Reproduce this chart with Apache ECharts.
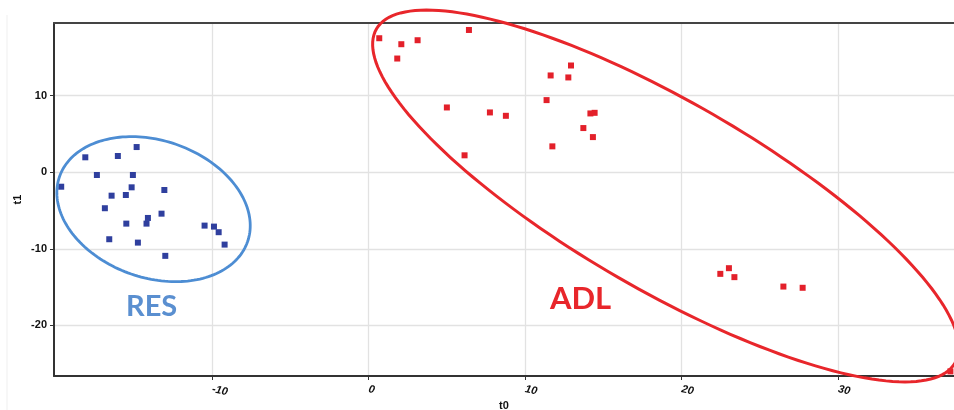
<!DOCTYPE html>
<html>
<head>
<meta charset="utf-8">
<script src="https://cdn.jsdelivr.net/npm/echarts@6/dist/echarts.min.js"></script>
<style>html,body{margin:0;padding:0;background:#fff}#c{width:954px;height:410px}</style>
</head>
<body>
<div id="c"></div>
<script>
// RES group scores [t0, t1]
var resPoints = [
  [-19.64, -1.88], [-18.10, 1.96], [-17.36, -0.35], [-16.02, 2.13], [-14.82, 3.30],
  [-15.06, -0.35], [-15.14, -1.96], [-16.42, -3.05], [-15.51, -2.96], [-13.05, -2.31],
  [-16.85, -4.69], [-13.23, -5.40], [-14.10, -5.96], [-14.19, -6.70], [-15.48, -6.70],
  [-16.57, -8.74], [-14.74, -9.18], [-12.99, -10.91], [-10.48, -6.96], [-9.88, -7.09],
  [-9.58, -7.82], [-9.20, -9.44]
];
// ADL group scores [t0, t1]
var adlPoints = [
  [0.68, 17.51], [2.09, 16.73], [3.13, 17.25], [1.83, 14.86], [6.41, 18.59],
  [5.00, 8.47], [7.75, 7.82], [8.77, 7.38], [6.13, 2.22], [11.63, 12.65],
  [12.76, 12.39], [12.93, 13.95], [11.37, 9.43], [14.17, 7.69], [14.44, 7.77],
  [13.72, 5.78], [14.33, 4.60], [11.74, 3.39], [22.47, -13.26], [23.02, -12.52],
  [23.37, -13.69], [26.50, -14.92], [27.73, -15.08], [37.17, -26.0]
];
var xTicks = [-10, 0, 10, 20, 30];
var yTicks = [-20, -10, 0, 10];
// group ellipses: centre in data units
var ellipseCentres = [[-13.74, -4.81], [18.98, -3.09]];

var ellipseStyle = [
  {a: 99.5, b: 68.6, rot: 19, color: '#4d8dd3', width: 2.8},
  {a: 334, b: 94.3, rot: 30, color: '#e8262b', width: 3}
];

var chart = echarts.init(document.getElementById('c'));
var labelFont = 'Liberation Sans';
chart.setOption({
  animation: false,
  backgroundColor: '#fff',
  grid: {left: 54, top: 23, right: 0, bottom: 34, outerBoundsMode: 'none', containLabel: false},
  xAxis: [{
    type: 'value', min: -20.1, max: 37.4,
    name: 't0', nameLocation: 'middle', nameGap: 24, nameMoveOverlap: false,
    nameTextStyle: {fontFamily: labelFont, fontWeight: 'bold', fontSize: 11, color: '#111'},
    axisLine: {show: true, onZero: false, lineStyle: {color: '#333', width: 2}},
    axisTick: {show: true, length: 4, customValues: xTicks, lineStyle: {color: '#333'}},
    axisLabel: {customValues: xTicks, fontFamily: labelFont, fontWeight: 'bold', fontStyle: 'italic',
      fontSize: 11, color: '#111', margin: 13, rotate: -12},
    splitLine: {show: true, lineStyle: {color: '#e2e2e2', width: 1.3}}
  }, {
    type: 'value', position: 'top', min: -20.1, max: 37.4,
    axisLine: {show: true, onZero: false, lineStyle: {color: '#444', width: 2}},
    axisTick: {show: false}, axisLabel: {show: false}, splitLine: {show: false}
  }],
  yAxis: {
    type: 'value', min: -26.6, max: 19.5,
    name: 't1', nameLocation: 'middle', nameGap: 31, nameRotate: 90, nameMoveOverlap: false,
    nameTextStyle: {fontFamily: labelFont, fontWeight: 'bold', fontSize: 11, color: '#111'},
    axisLine: {show: true, onZero: false, lineStyle: {color: '#333', width: 2}},
    axisTick: {show: true, length: 4, customValues: yTicks, lineStyle: {color: '#333'}},
    axisLabel: {customValues: yTicks, fontFamily: labelFont, fontWeight: 'bold', fontSize: 11, color: '#111', margin: 7},
    splitLine: {show: true, lineStyle: {color: '#e2e2e2', width: 1.3}}
  },
  graphic: [
    {type: 'line', shape: {x1: 7, y1: 15, x2: 7, y2: 410}, style: {stroke: '#efefef', lineWidth: 1}, z: -1},
    {type: 'text', left: 126, top: 292, style: {text: 'RES', fill: '#5a8fd0', font: 'bold 29px Lato'}},
    {type: 'text', left: 550, top: 283, style: {text: 'ADL', fill: '#e8262b', font: 'bold 31px Lato'}}
  ],
  series: [
    {type: 'scatter', data: resPoints, symbol: 'rect', symbolSize: 6, itemStyle: {color: '#2f3f9e', opacity: 1}, z: 3},
    {type: 'scatter', data: adlPoints, symbol: 'rect', symbolSize: 6, itemStyle: {color: '#e3202a', opacity: 1}, z: 3},
    {
      type: 'custom', data: ellipseCentres, z: 4, clip: false,
      renderItem: function (params, api) {
        var c = api.coord([api.value(0), api.value(1)]);
        var s = ellipseStyle[params.dataIndex];
        var th = s.rot * Math.PI / 180, pts = [];
        for (var i = 0; i <= 180; i++) {
          var t = i / 180 * 2 * Math.PI;
          var u = s.a * Math.cos(t), v = s.b * Math.sin(t);
          pts.push([c[0] + u * Math.cos(th) - v * Math.sin(th), c[1] + u * Math.sin(th) + v * Math.cos(th)]);
        }
        return {type: 'polyline', shape: {points: pts}, style: {fill: null, stroke: s.color, lineWidth: s.width}};
      }
    }
  ]
});
</script>
</body>
</html>
